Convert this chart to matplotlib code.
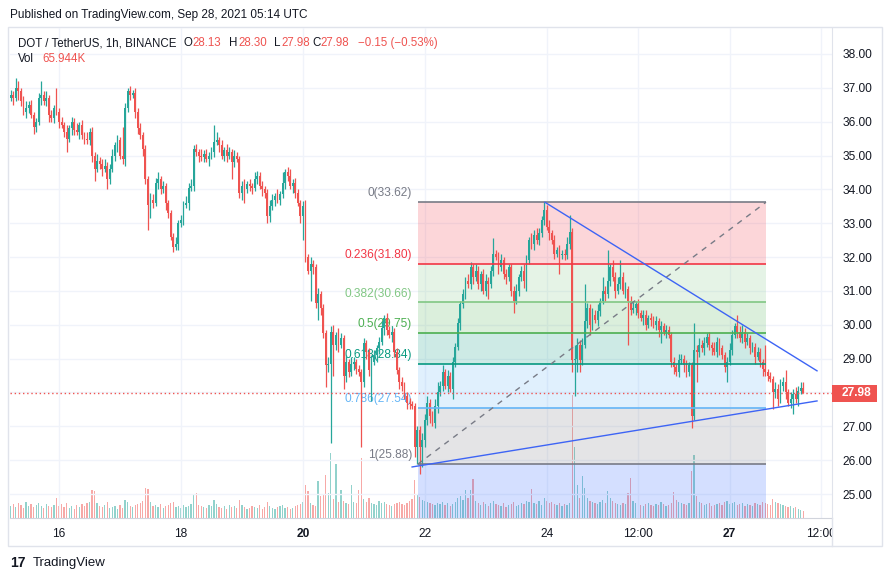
import matplotlib
matplotlib.use("Agg")
import matplotlib.pyplot as plt
import matplotlib.transforms as mtransforms
from matplotlib.patches import Rectangle
import numpy as np

plt.rcParams['font.family'] = ['Liberation Sans', 'DejaVu Sans']

# DOT/USDT 1h candles, first one Sep 15 05:00 UTC, last one Sep 28 05:00 UTC
# x unit = hours after Sep 16 00:00
start_hour = -19
first_open = 36.7
closes = [
    36.8, 36.7, 37.0, 36.9, 36.6, 36.3, 36.4, 36.5, 36.2, 35.85,
    36.0, 36.7, 36.8, 36.6, 36.7, 36.2, 36.1, 36.4, 36.3, 36.0,
    35.9, 35.7, 35.5, 35.8, 36.0, 35.75, 35.7, 35.9, 35.6, 35.5,
    35.45, 35.7, 35.0, 34.6, 34.85, 34.75, 34.6, 34.7, 34.3, 34.6,
    35.0, 35.3, 35.45, 35.0, 34.9, 36.4, 36.9, 36.8, 36.85, 36.3,
    35.8, 35.6, 35.2, 34.3, 33.55, 33.7, 33.6, 34.2, 34.3, 34.0,
    34.1, 33.6, 33.3, 32.6, 32.3, 32.4, 33.0, 33.1, 33.55, 33.6,
    34.05, 34.1, 35.2, 35.1, 35.0, 34.95, 35.05, 34.9, 35.0, 35.1,
    35.4, 35.45, 35.3, 35.0, 35.15, 35.0, 35.1, 34.8, 35.0, 34.9,
    33.9, 34.1, 34.0, 34.15, 34.1, 34.05, 34.3, 34.4, 34.1, 34.0,
    33.9, 33.2, 33.5, 33.7, 33.8, 33.7, 33.85, 34.2, 34.5, 34.4,
    34.1, 34.2, 33.9, 33.6, 33.2, 33.5, 32.0, 31.6, 31.8, 31.7,
    30.65, 30.9, 30.5, 29.75, 28.8, 28.85, 29.8, 29.4, 29.7, 29.4,
    29.6, 28.5, 28.9, 28.6, 28.85, 28.9, 28.7, 28.6, 28.3, 29.45,
    29.2, 28.65, 28.9, 29.1, 29.3, 29.5, 29.9, 30.2, 29.85, 29.7,
    29.8, 29.2, 28.65, 28.3, 28.2, 27.9, 27.7, 27.65, 27.6, 26.4,
    26.9, 26.4, 26.6, 27.2, 27.7, 27.3, 27.1, 27.6, 28.0, 28.2,
    28.6, 28.2, 28.5, 28.1, 28.9, 29.35, 30.05, 30.6, 30.9, 31.3,
    31.2, 31.7, 31.4, 31.6, 31.2, 31.5, 31.0, 31.3, 31.2, 31.6,
    32.1, 32.0, 31.7, 31.9, 31.5, 31.4, 31.7, 31.0, 30.7, 31.0,
    31.4, 31.6, 31.3, 31.9, 32.5, 32.4, 32.65, 32.5, 32.7, 33.1,
    33.4, 32.9, 32.7, 32.5, 32.1, 32.2, 32.05, 32.1, 32.05, 32.4,
    32.75, 28.95, 29.0, 29.4, 28.95, 29.4, 30.1, 30.5, 30.0, 30.3,
    30.15, 30.4, 30.7, 31.0, 30.9, 31.3, 31.7, 31.4, 31.0, 31.2,
    31.4, 31.0, 31.05, 30.7, 30.45, 30.5, 30.6, 30.35, 30.2, 30.3,
    30.0, 30.2, 30.15, 30.0, 30.1, 29.85, 29.95, 29.8, 29.85, 29.7,
    28.9, 28.75, 28.6, 28.95, 29.0, 28.8, 28.6, 28.8, 27.3, 29.25,
    29.2, 29.4, 29.3, 29.45, 29.65, 29.4, 29.3, 29.2, 29.5, 29.3,
    29.1, 28.75, 28.9, 29.25, 29.7, 29.95, 29.8, 29.6, 29.8, 29.5,
    29.6, 29.3, 29.35, 29.05, 29.2, 28.9, 28.7, 28.6, 28.5, 28.4,
    28.0, 28.1, 27.8, 28.2, 28.3, 28.0, 27.7, 27.8, 27.95, 27.8,
    28.05, 28.13, 27.98,
]
# wick length above the body / below the body
wick_up = [
    0.15, 0.1, 0.3, 0.2, 0.1, 0.15, 0.2, 0.1, 0.15, 0.1,
    0.1, 0.15, 0.4, 0.1, 0.2, 0.1, 0.15, 0.1, 0.6, 0.1,
    0.15, 0.1, 0.2, 0.1, 0.15, 0.1, 0.2, 0.1, 0.15, 0.1,
    0.2, 0.1, 0.15, 0.1, 0.2, 0.1, 0.15, 0.2, 0.1, 0.15,
    0.2, 0.1, 0.15, 0.1, 0.85, 0.15, 0.1, 0.15, 0.1, 0.15,
    0.1, 0.15, 0.1, 0.1, 0.1, 0.2, 0.15, 0.15, 0.2, 0.1,
    0.15, 0.1, 0.1, 0.1, 0.1, 0.2, 0.1, 0.15, 0.1, 0.2,
    0.15, 0.2, 0.1, 0.15, 0.1, 0.2, 0.1, 0.15, 0.1, 0.15,
    0.5, 0.25, 0.1, 0.15, 0.1, 0.2, 0.15, 0.1, 0.15, 0.1,
    0.1, 0.15, 0.2, 0.1, 0.15, 0.1, 0.2, 0.15, 0.1, 0.15,
    0.1, 0.1, 0.2, 0.15, 0.1, 0.2, 0.1, 0.3, 0.1, 0.15,
    0.2, 0.1, 0.15, 0.1, 0.1, 0.15, 0.2, 0.1, 0.2, 0.1,
    0.1, 0.2, 0.1, 0.1, 0.1, 0.2, 0.15, 0.2, 0.1, 0.2,
    0.15, 0.1, 0.2, 0.1, 0.2, 0.15, 0.1, 0.1, 0.1, 0.15,
    0.1, 0.1, 0.2, 0.15, 0.1, 0.15, 0.2, 0.1, 0.15, 0.1,
    0.15, 0.1, 0.1, 0.1, 0.15, 0.1, 0.1, 0.15, 0.1, 0.1,
    0.1, 0.1, 0.2, 0.15, 0.2, 0.1, 0.15, 0.2, 0.3, 0.15,
    0.2, 0.1, 0.15, 0.1, 0.15, 0.1, 0.15, 0.1, 0.15, 0.1,
    0.2, 0.15, 0.1, 0.2, 0.15, 0.1, 0.15, 0.2, 0.1, 0.15,
    0.45, 0.1, 0.15, 0.2, 0.1, 0.15, 0.1, 0.1, 0.15, 0.2,
    0.1, 0.15, 0.2, 0.15, 0.1, 0.2, 0.15, 0.2, 0.15, 0.1,
    0.22, 0.15, 0.2, 0.1, 0.15, 0.1, 0.15, 0.1, 0.15, 0.2,
    0.5, 0.1, 0.4, 0.2, 0.15, 0.2, 1.1, 0.15, 0.1, 0.2,
    0.15, 0.2, 0.1, 0.4, 0.15, 0.9, 0.1, 0.2, 0.15, 0.2,
    0.5, 0.15, 0.2, 0.1, 0.15, 0.2, 0.1, 0.15, 0.1, 0.15,
    0.15, 0.1, 0.15, 0.1, 0.15, 0.1, 0.15, 0.1, 0.15, 0.1,
    0.1, 0.15, 0.1, 0.2, 0.15, 0.1, 0.15, 0.1, 0.1, 0.8,
    0.15, 0.2, 0.15, 0.2, 0.1, 0.15, 0.1, 0.2, 0.15, 0.1,
    0.1, 0.1, 0.15, 0.2, 0.15, 0.1, 0.35, 0.15, 0.2, 0.1,
    0.15, 0.1, 0.15, 0.1, 0.15, 0.1, 0.1, 0.7, 0.1, 0.1,
    0.1, 0.2, 0.15, 0.2, 0.15, 0.35, 0.1, 0.2, 0.15, 0.2,
    0.15, 0.17, 0.17,
]
wick_dn = [
    0.1, 0.2, 0.1, 0.25, 0.15, 0.1, 0.2, 0.15, 0.1, 0.2,
    0.15, 0.1, 0.2, 0.1, 0.15, 0.2, 0.1, 0.15, 0.1, 0.2,
    0.1, 0.15, 0.4, 0.1, 0.2, 0.15, 0.1, 0.2, 0.1, 0.15,
    0.1, 0.15, 0.2, 0.35, 0.1, 0.15, 0.2, 0.1, 0.3, 0.15,
    0.1, 0.15, 0.2, 0.1, 0.15, 0.2, 0.1, 0.15, 0.1, 0.2,
    0.15, 0.1, 0.2, 0.15, 0.75, 0.4, 0.15, 0.1, 0.2, 0.15,
    0.1, 0.2, 0.15, 0.1, 0.15, 0.1, 0.2, 0.1, 0.15, 0.1,
    0.2, 0.1, 0.15, 0.1, 0.2, 0.1, 0.15, 0.1, 0.2, 0.1,
    0.15, 0.1, 0.2, 0.1, 0.15, 0.2, 0.1, 0.5, 0.15, 0.1,
    0.15, 0.2, 0.4, 0.1, 0.15, 0.2, 0.1, 0.15, 0.1, 0.2,
    0.15, 0.2, 0.15, 0.1, 0.2, 0.1, 0.15, 0.1, 0.2, 0.15,
    0.1, 0.2, 0.15, 0.1, 0.2, 0.7, 0.15, 0.1, 0.9, 0.2,
    0.15, 0.5, 0.2, 0.15, 0.65, 0.2, 2.35, 0.9, 0.15, 0.2,
    0.1, 0.4, 0.2, 0.15, 0.1, 0.2, 0.15, 0.1, 1.9, 0.15,
    0.2, 0.15, 0.9, 0.1, 0.2, 0.15, 0.1, 0.2, 0.15, 0.1,
    0.2, 0.15, 0.1, 0.2, 0.15, 0.1, 0.2, 0.15, 0.1, 0.3,
    0.5, 0.8, 0.6, 0.2, 0.15, 0.2, 0.1, 0.15, 0.2, 0.1,
    0.15, 0.1, 0.2, 0.1, 0.3, 0.15, 0.1, 0.2, 0.1, 0.15,
    0.1, 0.15, 0.2, 0.1, 0.15, 0.2, 0.1, 0.15, 0.45, 0.1,
    0.15, 0.1, 0.2, 0.1, 0.15, 0.2, 0.1, 0.15, 0.35, 0.1,
    0.15, 0.1, 0.2, 0.3, 0.1, 0.15, 0.2, 0.1, 0.15, 0.1,
    0.15, 0.1, 0.2, 0.1, 0.15, 0.1, 0.55, 0.1, 0.15, 0.1,
    0.15, 0.35, 1.05, 0.4, 0.35, 0.15, 0.1, 0.2, 0.3, 0.15,
    0.1, 0.2, 0.15, 0.1, 0.2, 0.1, 0.15, 0.1, 0.2, 0.1,
    0.15, 0.1, 0.2, 1.3, 0.15, 0.1, 0.2, 0.15, 0.1, 0.2,
    0.15, 0.1, 0.2, 0.1, 0.15, 0.2, 0.4, 0.1, 0.2, 0.1,
    0.15, 0.2, 0.1, 0.15, 0.1, 0.2, 0.15, 0.1, 0.35, 0.1,
    0.9, 0.15, 0.1, 0.2, 0.1, 0.15, 0.2, 0.1, 0.15, 0.2,
    0.1, 0.15, 0.45, 0.1, 0.15, 0.1, 0.2, 0.1, 0.15, 0.2,
    0.1, 0.15, 0.1, 0.2, 0.1, 0.15, 0.2, 0.1, 0.15, 0.1,
    0.5, 0.15, 0.2, 0.1, 0.15, 0.2, 0.1, 0.15, 0.45, 0.1,
    0.2, 0.1, 0.0,
]
# volume in thousands of DOT
volumes = [
    120, 140, 110, 150, 130, 100, 160, 120, 140, 110,
    130, 150, 120, 100, 140, 120, 110, 130, 200, 120,
    140, 110, 150, 100, 120, 90, 130, 110, 140, 120,
    150, 160, 280, 270, 150, 120, 110, 130, 160, 100,
    110, 120, 90, 130, 100, 180, 160, 120, 110, 130,
    140, 150, 170, 300, 290, 160, 120, 130, 110, 140,
    100, 120, 130, 150, 160, 110, 120, 100, 130, 110,
    120, 140, 230, 250, 130, 120, 110, 100, 130, 120,
    180, 140, 110, 100, 120, 90, 130, 110, 120, 100,
    180, 130, 110, 90, 100, 120, 110, 100, 130, 90,
    110, 160, 120, 100, 90, 110, 120, 130, 100, 110,
    90, 100, 120, 130, 140, 160, 330, 270, 150, 130,
    120, 370, 220, 240, 430, 250, 650, 190, 540, 160,
    280, 170, 150, 140, 330, 160, 150, 280, 600, 190,
    160, 200, 150, 140, 130, 170, 150, 160, 140, 130,
    120, 140, 150, 160, 140, 130, 150, 170, 190, 380,
    230, 210, 180, 170, 160, 150, 140, 130, 150, 140,
    160, 130, 150, 120, 140, 160, 200, 220, 180, 280,
    200, 280, 390, 170, 150, 130, 160, 140, 120, 150,
    170, 140, 130, 120, 150, 110, 130, 140, 160, 120,
    130, 150, 140, 170, 160, 290, 150, 140, 170, 130,
    200, 170, 150, 160, 140, 130, 150, 120, 140, 130,
    150, 1230, 710, 330, 200, 420, 300, 200, 170, 160,
    150, 140, 160, 180, 150, 270, 200, 170, 150, 140,
    130, 150, 140, 250, 400, 170, 150, 140, 130, 120,
    140, 150, 130, 120, 140, 130, 160, 140, 120, 130,
    150, 260, 180, 160, 150, 140, 130, 150, 470, 630,
    220, 160, 150, 130, 140, 150, 120, 130, 140, 150,
    130, 160, 170, 140, 150, 160, 130, 140, 150, 120,
    140, 130, 120, 150, 140, 130, 160, 150, 140, 130,
    190, 160, 150, 140, 130, 120, 110, 120, 100, 110,
    90, 80, 66,
]

last_price = 27.98

# Fibonacci retracement drawing
fib_labels = ['0', '0.236', '0.382', '0.5', '0.618', '0.786', '1']
fib_prices = [33.62, 31.80, 30.66, 29.75, 28.84, 27.54, 25.88]
fib_colors = ['#787b86', '#f23645', '#81c784', '#4caf50', '#089981', '#64b5f6', '#787b86']
fib_below_color = '#2962ff'
fib_start, fib_end = 141.2, 278.3

# hand-drawn trend lines (hour, price)
trend_down = ([191.3, 298.4], [33.62, 28.64])
trend_up = ([139.0, 298.4], [25.80, 27.75])

tick_hours = [0, 48, 96, 144, 192, 228, 264, 300]
tick_labels = ['16', '18', '20', '22', '24', '12:00', '27', '12:00']
bold_ticks = ['20', '27']
price_ticks = list(range(25, 39))

UP, DOWN = '#26a69a', '#ef5350'
UP_VOL, DOWN_VOL = '#92d2cc', '#f7a9a7'
TXT = '#131722'
GRID = '#f0f3fa'
BORDER = '#e0e3eb'

W, H = 892, 581
fig = plt.figure(figsize=(W / 100, H / 100), dpi=100)
fig.patch.set_facecolor('white')

def fx(px):
    return px / W

def fy(py):
    return 1 - py / H

rect = [fx(10), fy(518), fx(832) - fx(10), fy(28) - fy(518)]
ax_v = fig.add_axes(rect)
ax = fig.add_axes(rect)
ax_v.set_zorder(0)
ax.set_zorder(1)
ax.patch.set_visible(False)

closes = np.array(closes)
opens = np.concatenate([[first_open], closes[:-1]])
hours = start_hour + np.arange(len(closes))
highs = np.maximum(opens, closes) + np.array(wick_up)
lows = np.minimum(opens, closes) - np.array(wick_dn)
is_up = closes >= opens

xlim = (-19.3, 304.3)
ylim = (24.292, 38.768)

# volume pane (bottom overlay)
ax_v.bar(hours, volumes, width=0.5, color=np.where(is_up, UP_VOL, DOWN_VOL), linewidth=0)
ax_v.set_xlim(*xlim)
ax_v.set_ylim(0, 4900)
ax_v.axis('off')

# grid
for p in price_ticks:
    ax.axhline(p, color=GRID, lw=1, zorder=0)
for t in tick_hours:
    ax.axvline(t, color=GRID, lw=1, zorder=0)

# fib bands
for k in range(len(fib_prices) - 1):
    ax.fill_between([fib_start, fib_end], fib_prices[k + 1], fib_prices[k],
                    color=fib_colors[k + 1], alpha=0.2, linewidth=0, zorder=1)
ax.fill_between([fib_start, fib_end], ylim[0], fib_prices[-1],
                color=fib_below_color, alpha=0.2, linewidth=0, zorder=1)
for lab, p, c in zip(fib_labels, fib_prices, fib_colors):
    ax.hlines(p, fib_start, fib_end, color=c, lw=1.2, zorder=4)
    ax.annotate(f'{lab}({p:.2f})', (139.0, p), xytext=(0, 2), textcoords='offset points',
                ha='right', va='bottom', color=c, fontsize=8.6, zorder=2)
ax.plot([fib_start, fib_end], [fib_prices[-1], fib_prices[0]], color='#787b86',
        lw=1, ls=(0, (4, 4)), zorder=4)

# candles
colors = np.where(is_up, UP, DOWN)
ax.vlines(hours, lows, highs, colors=colors, lw=0.9, zorder=3)
ax.bar(hours, np.maximum(np.abs(closes - opens), 0.03), bottom=np.minimum(opens, closes),
       width=0.72, color=colors, linewidth=0, zorder=3)

# trend lines
ax.plot(*trend_down, color='#3d64f5', lw=1, zorder=5)
ax.plot(*trend_up, color='#3d64f5', lw=1, zorder=5)

# last price line and label
ax.axhline(last_price, color=DOWN, lw=1, ls=(0, (1, 2)), zorder=5)
tr = mtransforms.blended_transform_factory(ax.transAxes, ax.transData)
ax.add_patch(Rectangle((1.0, last_price - 0.25), 45 / 822, 0.5, transform=tr,
                       facecolor=DOWN, edgecolor='none', clip_on=False, zorder=6))
ax.text(1.0 + 24 / 822, last_price, f'{last_price:.2f}', transform=tr, ha='center', va='center',
        color='white', fontsize=8.6, fontweight='bold', clip_on=False, zorder=7)

ax.set_xlim(*xlim)
ax.set_ylim(*ylim)

ax.yaxis.tick_right()
ax.set_yticks(price_ticks)
ax.set_yticklabels(['' if p == 28 else f'{p:.2f}' for p in price_ticks])
ax.set_xticks(tick_hours)
ax.set_xticklabels(tick_labels)
ax.tick_params(axis='y', length=0, pad=7.5, labelsize=8.6, labelcolor=TXT)
ax.tick_params(axis='x', length=0, pad=7, labelsize=8.6, labelcolor=TXT)
# time labels are cut at the price-scale border, as on the site
time_clip = mtransforms.TransformedBbox(mtransforms.Bbox([[0, 0], [832, H]]),
                                        mtransforms.IdentityTransform())
for lbl in ax.get_xticklabels():
    if lbl.get_text() in bold_ticks:
        lbl.set_fontweight('bold')
    lbl.set_clip_on(True)
    lbl.set_clip_box(time_clip)

for s in ['top', 'left']:
    ax.spines[s].set_visible(False)
ax.spines['right'].set_color(BORDER)
ax.spines['bottom'].set_color('#d1d4dc')

# outer frame and time-axis separator
fig.add_artist(Rectangle((fx(8), fy(546)), fx(882) - fx(8), fy(27) - fy(546),
                         transform=fig.transFigure, fill=False, edgecolor=BORDER, lw=1))
fig.add_artist(plt.Line2D([fx(832), fx(832)], [fy(518), fy(546)], transform=fig.transFigure,
                          color=BORDER, lw=1))

# header texts
fig.text(fx(10), fy(15), 'Published on TradingView.com, Sep 28, 2021 05:14 UTC',
         color=TXT, fontsize=8.45, va='center')
legend_parts = [
    (18, 'DOT / TetherUS, 1h, BINANCE', TXT), (184, 'O', TXT), (192, '28.13', DOWN),
    (229, 'H', TXT), (238, '28.30', DOWN), (274, 'L', TXT), (281, '27.98', DOWN),
    (312, 'C', TXT), (320, '27.98', DOWN), (358, '\u22120.15 (\u22120.53%)', DOWN),
]
for x, s, c in legend_parts:
    fig.text(fx(x), fy(43), s, color=c, fontsize=8.3, va='center')
fig.text(fx(18), fy(59), 'Vol', color=TXT, fontsize=8.3, va='center')
fig.text(fx(42), fy(59), '65.944K', color=DOWN, fontsize=8.3, va='center')

# footer logo
fig.text(fx(10), fy(563), '17', color=TXT, fontsize=10, fontweight='heavy', va='center')
fig.text(fx(33), fy(563), 'TradingView', color=TXT, fontsize=9.5, va='center')

fig.savefig('out.png', dpi=100)
